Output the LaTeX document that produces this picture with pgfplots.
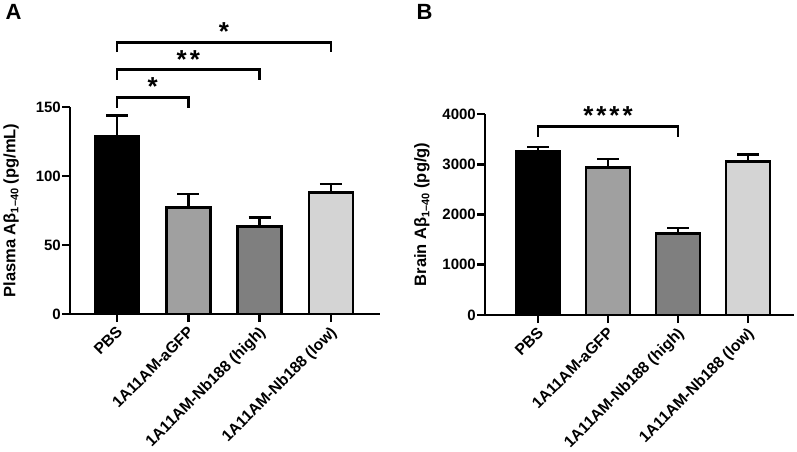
\documentclass[border=0pt]{standalone}
\usepackage{pgfplots}
\pgfplotsset{compat=1.18}
\usepackage{fontspec}
\setmainfont{Liberation Sans}
\definecolor{gA}{HTML}{000000}
\definecolor{gB}{HTML}{A0A0A0}
\definecolor{gC}{HTML}{7F7F7F}
\definecolor{gD}{HTML}{D4D4D4}
\newcommand{\sub}[1]{\raisebox{-0.35ex}{\fontsize{11}{11}\selectfont #1}}
\newcommand{\lbl}{\fontsize{15.7}{19}\selectfont\bfseries}
\newcommand{\ylbl}{\fontsize{15}{18}\selectfont\bfseries}
\newcommand{\st}{\fontsize{26}{26}\selectfont\bfseries}
\begin{document}
\begin{tikzpicture}
\useasboundingbox (0pt,0pt) rectangle (797pt,451pt);
\pgfplotsset{
  common/.style={
    scale only axis,
    axis x line*=bottom, axis y line*=left,
    axis line style={line width=2.6pt,-},
    tick style={line width=2.6pt,black},
    major tick length=8pt,
    tick align=outside,
    xtick={0,1,2,3},
    xticklabels={PBS,1A11AM-aGFP,1A11AM-Nb188 (high),1A11AM-Nb188 (low)},
    xticklabel style={xshift=-1.5pt,yshift=-3pt,rotate=45,anchor=north east,font=\lbl,inner sep=0pt},
    yticklabel style={font=\ylbl,inner xsep=1pt},
    ylabel style={anchor=center,font=\fontsize{16.5}{19}\selectfont\bfseries},
    ymin=0,
    clip=false,
    bar shift=0pt,
    bar width=44pt,
  },
  barst/.style={ybar, draw=black, line width=2.6pt, fill=#1, mark=none,
    error bars/.cd, y dir=plus, y explicit,
    error bar style={line width=2.6pt,black},
    error mark options={rotate=90,line width=2.6pt,mark size=11pt,black}},
}
\begin{axis}[common,
  at={(70pt,137pt)}, anchor=south west,
  width=310pt, height=207pt,
  xmin=-0.66, xmax=3.69, ymax=150,
  ytick={0,50,100,150},
  yticklabels={0,50,100,150},
  ylabel={Plasma Aβ\sub{1–40} (pg/mL)},
  ylabel style={at={(axis description cs:-0.19,0.5)}},
]
\addplot[barst=gA] coordinates {(0,128.9) +- (0,15.0)};
\addplot[barst=gB] coordinates {(1,77.0) +- (0,9.9)};
\addplot[barst=gC] coordinates {(2,63.6) +- (0,6.5)};
\addplot[barst=gD] coordinates {(3,88.1) +- (0,6.1)};
\draw[line width=2.6pt] (axis cs:0,149.5) -- (axis cs:0,156.8) -- (axis cs:1,156.8) -- (axis cs:1,149.5);
\draw[line width=2.6pt] (axis cs:0,169.7) -- (axis cs:0,177.0) -- (axis cs:2,177.0) -- (axis cs:2,169.7);
\draw[line width=2.6pt] (axis cs:0,189.8) -- (axis cs:0,196.8) -- (axis cs:3,196.8) -- (axis cs:3,189.8);
\node[font=\st] at (axis cs:0.5,165) {*};
\node[font=\st] at (axis cs:1.0,184.5) {*\kern3pt*};
\node[font=\st] at (axis cs:1.5,205) {*};
\end{axis}
\begin{axis}[common,
  at={(485pt,136pt)}, anchor=south west,
  width=309pt, height=201pt,
  xmin=-0.757, xmax=3.657, ymax=4000,
  ytick={0,1000,2000,3000,4000},
  yticklabels={0,1000,2000,3000,4000},
  ylabel={Brain Aβ\sub{1–40} (pg/g)},
  ylabel style={at={(axis description cs:-0.204,0.5)}},
]
\addplot[barst=gA] coordinates {(0,3252) +- (0,88)};
\addplot[barst=gB] coordinates {(1,2935) +- (0,166)};
\addplot[barst=gC] coordinates {(2,1620) +- (0,113)};
\addplot[barst=gD] coordinates {(3,3054) +- (0,146)};
\draw[line width=2.6pt] (axis cs:0,3550) -- (axis cs:0,3748) -- (axis cs:2,3748) -- (axis cs:2,3550);
\node[font=\st] at (axis cs:1.0,3960) {*\kern3pt*\kern3pt*\kern3pt*};
\end{axis}
\node[anchor=base west,font=\fontsize{22}{22}\selectfont\bfseries] at (2pt,431pt) {A};
\node[anchor=base west,font=\fontsize{22}{22}\selectfont\bfseries] at (413pt,431pt) {B};
\end{tikzpicture}
\end{document}
